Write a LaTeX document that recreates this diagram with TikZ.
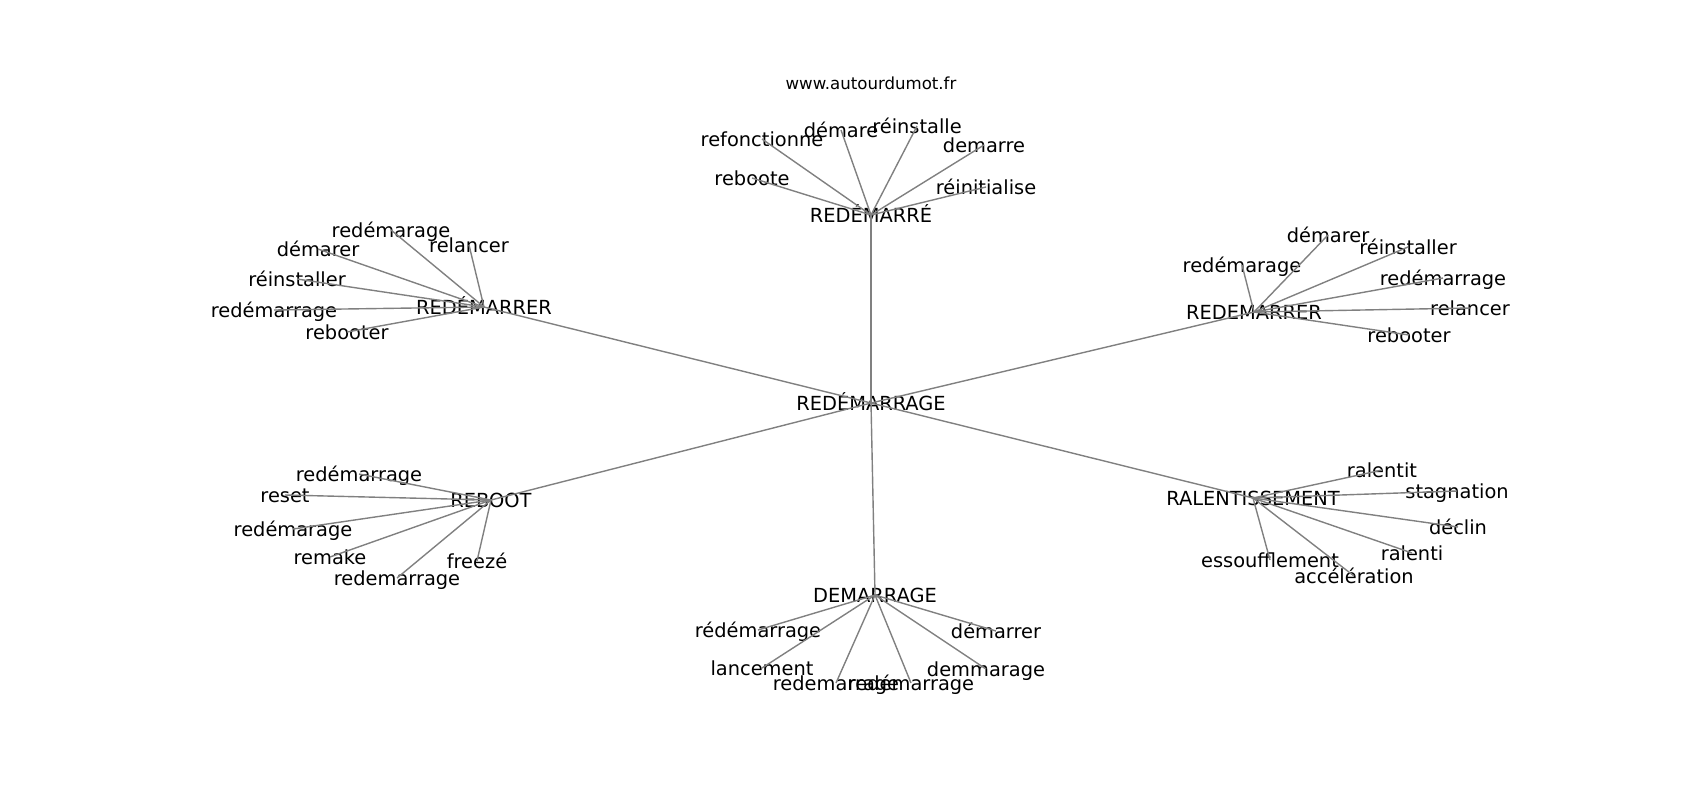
\documentclass[tikz,border=0pt]{standalone}
\usepackage{fontspec}
\setmainfont{DejaVu Sans}
\tikzset{
  mot/.style={inner sep=0pt, text height=0.88em, text depth=0.12em, font=\fontsize{9.7}{11}\selectfont},
  lien/.style={draw=gray, line width=0.7pt}
}
\begin{document}
\begin{tikzpicture}[x=0.5pt, y=-0.5pt]
    \useasboundingbox (0,0) rectangle (1700,800);

    % Titre
    \node[inner sep=0pt, font=\fontsize{8.3}{10}\selectfont] (titre) at (871,83) {www.autourdumot.fr};

    % Mots principaux
    \node[mot] (hub_centre) at (871,403) {REDÉMARRAGE};
    \node[mot] (hub_redemarre) at (871,215) {REDÉMARRÉ};
    \node[mot] (hub_redemarrer_g) at (484,307) {REDÉMARRER};
    \node[mot] (hub_redemarrer_d) at (1254,312) {REDEMARRER};
    \node[mot] (hub_reboot) at (491,500) {REBOOT};
    \node[mot] (hub_ralent) at (1253,498) {RALENTISSEMENT};
    \node[mot] (hub_demarrage) at (875,595) {DEMARRAGE};

    % Voisins de REDÉMARRÉ
    \node[mot] (a_1) at (762,139) {refonctionne};
    \node[mot] (a_2) at (841,130) {démare};
    \node[mot] (a_3) at (917,126) {réinstalle};
    \node[mot] (a_4) at (984,145) {demarre};
    \node[mot] (a_5) at (752,178) {reboote};
    \node[mot] (a_6) at (986,187) {réinitialise};

    % Voisins de REDÉMARRER
    \node[mot] (b_1) at (391,230) {redémarage};
    \node[mot] (b_2) at (318,249) {démarer};
    \node[mot] (b_3) at (469,245) {relancer};
    \node[mot] (b_4) at (297,279) {réinstaller};
    \node[mot] (b_5) at (274,310) {redémarrage};
    \node[mot] (b_6) at (347,332) {rebooter};

    % Voisins de REDEMARRER
    \node[mot] (c_1) at (1328,235) {démarer};
    \node[mot] (c_2) at (1408,247) {réinstaller};
    \node[mot] (c_3) at (1242,265) {redémarage};
    \node[mot] (c_4) at (1443,278) {redémarrage};
    \node[mot] (c_5) at (1470,308) {relancer};
    \node[mot] (c_6) at (1409,335) {rebooter};

    % Voisins de REBOOT
    \node[mot] (d_1) at (359,474) {redémarrage};
    \node[mot] (d_2) at (285,495) {reset};
    \node[mot] (d_3) at (293,529) {redémarage};
    \node[mot] (d_4) at (330,557) {remake};
    \node[mot] (d_5) at (397,578) {redemarrage};
    \node[mot] (d_6) at (477,561) {freezé};

    % Voisins de RALENTISSEMENT
    \node[mot] (e_1) at (1382,470) {ralentit};
    \node[mot] (e_2) at (1457,491) {stagnation};
    \node[mot] (e_3) at (1458,527) {déclin};
    \node[mot] (e_4) at (1412,553) {ralenti};
    \node[mot] (e_5) at (1270,560) {essoufflement};
    \node[mot] (e_6) at (1354,576) {accélération};

    % Voisins de DEMARRAGE
    \node[mot] (f_1) at (758,630) {rédémarrage};
    \node[mot] (f_2) at (996,631) {démarrer};
    \node[mot] (f_3) at (762,668) {lancement};
    \node[mot] (f_4) at (986,669) {demmarage};
    \node[mot] (f_5) at (836,683) {redemarrage};
    \node[mot] (f_6) at (911,683) {redémarrage};

    % Liens
    \foreach \h in {hub_redemarre, hub_redemarrer_g, hub_redemarrer_d, hub_reboot, hub_ralent, hub_demarrage}
        \draw[lien] (hub_centre.center) -- (\h.center);
    \foreach \i in {1,...,6} {
        \draw[lien] (hub_redemarre.center) -- (a_\i.center);
        \draw[lien] (hub_redemarrer_g.center) -- (b_\i.center);
        \draw[lien] (hub_redemarrer_d.center) -- (c_\i.center);
        \draw[lien] (hub_reboot.center) -- (d_\i.center);
        \draw[lien] (hub_ralent.center) -- (e_\i.center);
        \draw[lien] (hub_demarrage.center) -- (f_\i.center);
    }
\end{tikzpicture}
\end{document}
